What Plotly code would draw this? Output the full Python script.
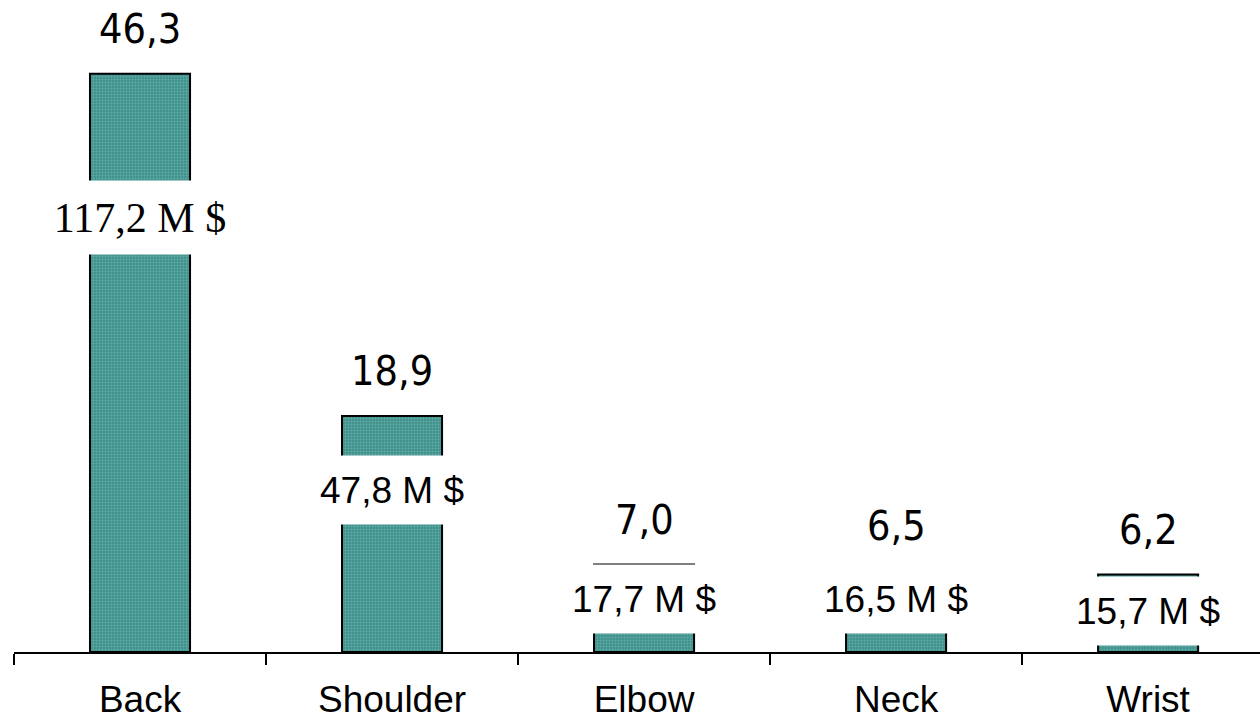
import plotly.graph_objects as go

# ---- data ----
categories = ["Back", "Shoulder", "Elbow", "Neck", "Wrist"]
values = [46.3, 18.9, 7.0, 6.5, 6.2]
value_labels = ["46,3", "18,9", "7,0", "6,5", "6,2"]
cost_labels = ["117,2 M $", "47,8 M $", "17,7 M $", "16,5 M $", "15,7 M $"]

# ---- styling / layout ----
cost_label_shift = [-144, -74, -34, -28, -36]   # px offset from bar top
cost_label_fonts = ["Liberation Serif, Times New Roman, serif"] + ["Liberation Sans, Arial, sans-serif"] * 4
cost_label_sizes = [42, 37, 37, 37, 37]
cost_label_heights = [71, 66, 66, 66, 66]
narrow_font = "Liberation Sans Narrow, Arial Narrow, DejaVu Sans Condensed, sans-serif"

fig = go.Figure()
fig.add_trace(go.Bar(
    x=categories, y=values,
    width=0.397,
    marker=dict(
        color="#4a9a95",
        line=dict(color="black", width=2),
        pattern=dict(shape=".", size=3, solidity=0.35, fgcolor="#8ccac5", bgcolor="#3f918c"),
    ),
    hoverinfo="skip",
))

annotations = []
for i, c in enumerate(categories):
    annotations.append(dict(
        x=c, y=values[i], xref="x", yref="y",
        text=value_labels[i], showarrow=False,
        yanchor="middle", yshift=45,
        font=dict(family=narrow_font, size=41, color="black"),
    ))
    annotations.append(dict(
        x=c, y=values[i], xref="x", yref="y",
        text=cost_labels[i], showarrow=False,
        yanchor="middle", yshift=cost_label_shift[i],
        bgcolor="white", height=cost_label_heights[i], width=180,
        font=dict(family=cost_label_fonts[i], size=cost_label_sizes[i], color="black"),
    ))

fig.update_layout(
    width=1260, height=723,
    margin=dict(l=14, r=0, t=0, b=71, autoexpand=False),
    paper_bgcolor="white", plot_bgcolor="white",
    showlegend=False,
    annotations=annotations,
    xaxis=dict(
        range=[-0.5, 4.444],
        automargin=False,
        showline=True, linecolor="black", linewidth=2,
        ticks="outside", tickson="boundaries", ticklen=11, tickwidth=2, tickcolor="black",
        ticklabelstandoff=14,
        tickfont=dict(family="Liberation Sans, Arial, sans-serif", size=37, color="black"),
        showgrid=False, zeroline=False,
    ),
    yaxis=dict(
        range=[0, 52.2], visible=False, showgrid=False, zeroline=False, automargin=False,
    ),
)

fig.write_html("out.html")
